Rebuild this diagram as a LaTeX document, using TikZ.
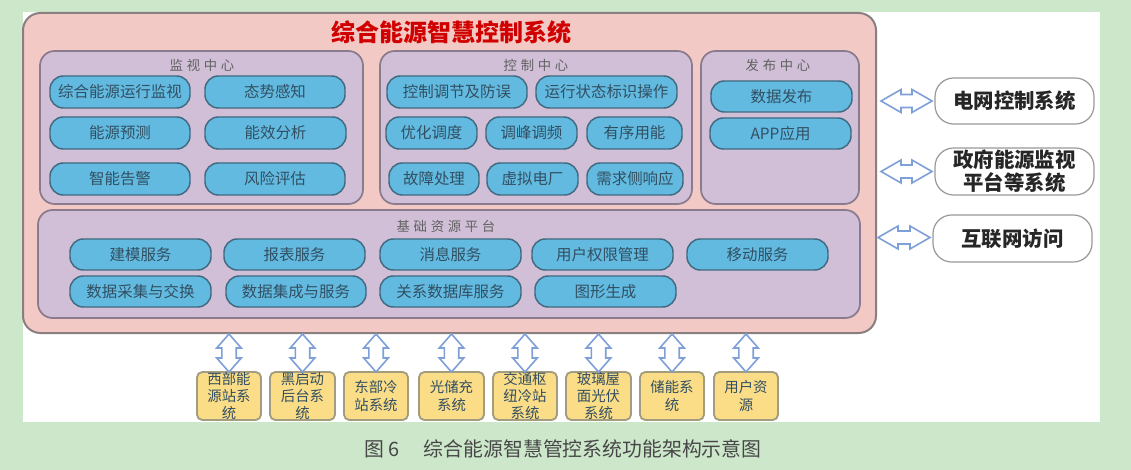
\documentclass[tikz,border=0pt]{standalone}
\usepackage{fontspec}
\usetikzlibrary{calc}
\newfontfamily\cjk{Noto Sans CJK SC}
\newfontfamily\cjkwide[LetterSpace=28]{Noto Sans CJK SC}
\definecolor{pagegreen}{HTML}{CDE7CB}
\definecolor{outerfill}{HTML}{F2C9C4}
\definecolor{outerline}{HTML}{8A7F80}
\definecolor{panelfill}{HTML}{D0BFD6}
\definecolor{panelline}{HTML}{8B7B8E}
\definecolor{pillfill}{HTML}{62BAE0}
\definecolor{pillline}{HTML}{41697F}
\definecolor{pilltext}{HTML}{324F62}
\definecolor{yellowfill}{HTML}{FBDD87}
\definecolor{yellowline}{HTML}{A39D80}
\definecolor{arrowblue}{HTML}{7F9FD8}
\newcommand{\bx}[7]{\node[#1,minimum width={(#4-#2)*0.75pt},minimum height={(#5-#3)*0.75pt}] (#6) at ({(#2+#4)/2},{(#3+#5)/2}) {#7};}
% hollow two-headed link: from, to, head length, head half width, shaft half width
\newcommand{\hollowlink}[5]{\draw[hollowlinkstyle] (#1)
  -- ($(#1)!#3!(#2)!#4!90:(#2)$) -- ($(#1)!#3!(#2)!#5!90:(#2)$)
  -- ($(#2)!#3!(#1)!#5!-90:(#1)$) -- ($(#2)!#3!(#1)!#4!-90:(#1)$)
  -- (#2)
  -- ($(#2)!#3!(#1)!#4!90:(#1)$) -- ($(#2)!#3!(#1)!#5!90:(#1)$)
  -- ($(#1)!#3!(#2)!#5!-90:(#2)$) -- ($(#1)!#3!(#2)!#4!-90:(#2)$)
  -- cycle;}
\tikzset{
  boxbase/.style={rectangle,inner sep=0pt,outer sep=0pt,align=center},
  outerbox/.style={boxbase,draw=outerline,fill=outerfill,line width=1.5pt,rounded corners=13pt},
  panelbox/.style={boxbase,draw=panelline,fill=panelfill,line width=1.3pt,rounded corners=11pt},
  pill/.style={boxbase,draw=pillline,fill=pillfill,line width=1.1pt,rounded corners=10pt,text=pilltext,font=\cjk\fontsize{11.6pt}{13pt}\selectfont},
  yellowbox/.style={boxbase,draw=yellowline,fill=yellowfill,line width=1.4pt,rounded corners=4pt,text=pilltext,font=\cjk\fontsize{10.8pt}{12.9pt}\selectfont},
  sidebox/.style={boxbase,draw=black!40,fill=white,line width=.9pt,rounded corners=14pt,text=black!85,font=\cjk\bfseries\fontsize{15.3pt}{17pt}\selectfont},
  paneltitle/.style={inner sep=0pt,text=black!62,font=\cjkwide\fontsize{10pt}{12pt}\selectfont},
  hollowlinkstyle/.style={draw=arrowblue,fill=white,line width=1.2pt,line join=miter}
}
\begin{document}
\begin{tikzpicture}[x=0.75pt,y=-0.75pt]
\fill[pagegreen] (0,0) rectangle (1131,470);
\fill[white] (23,12) rectangle (1100,422);
\useasboundingbox (0,0) rectangle (1131,470);

\bx{outerbox}{23}{13}{876}{333}{outer}{}
\node[inner sep=0pt,text=red!82!black,font=\cjk\bfseries\fontsize{18pt}{20pt}\selectfont] (maintitle) at (451,32) {综合能源智慧控制系统};

\bx{panelbox}{40}{51}{363}{204}{jiankong}{}
\bx{panelbox}{380}{51}{692}{204}{kongzhi}{}
\bx{panelbox}{701}{51}{859}{204}{fabu}{}
\bx{panelbox}{38}{210}{860}{318}{jichu}{}
\node[paneltitle] (t1) at (202,65) {监视中心};
\node[paneltitle] (t2) at (536,65) {控制中心};
\node[paneltitle] (t3) at (778,65) {发布中心};
\node[paneltitle] (t4) at (446,226) {基础资源平台};

\bx{pill}{50}{76}{190}{108}{a1}{综合能源运行监视}
\bx{pill}{205}{76}{345}{108}{a2}{态势感知}
\bx{pill}{50}{117}{190}{149}{a3}{能源预测}
\bx{pill}{205}{117}{346}{149}{a4}{能效分析}
\bx{pill}{50}{163}{190}{195}{a5}{智能告警}
\bx{pill}{205}{163}{345}{195}{a6}{风险评估}

\bx{pill}{387}{76}{527}{108}{b1}{控制调节及防误}
\bx{pill}{536}{76}{677}{108}{b2}{运行状态标识操作}
\bx{pill}{386}{117}{477}{149}{b3}{优化调度}
\bx{pill}{486}{117}{577}{149}{b4}{调峰调频}
\bx{pill}{587}{117}{682}{149}{b5}{有序用能}
\bx{pill}{389}{163}{479}{195}{b6}{故障处理}
\bx{pill}{487}{163}{578}{195}{b7}{虚拟电厂}
\bx{pill}{587}{163}{683}{195}{b8}{需求侧响应}

\bx{pill}{711}{81}{852}{112}{c1}{数据发布}
\bx{pill}{710}{118}{851}{149}{c2}{APP应用}

\bx{pill}{70}{239}{211}{270}{d1}{建模服务}
\bx{pill}{224}{239}{365}{270}{d2}{报表服务}
\bx{pill}{380}{239}{521}{270}{d3}{消息服务}
\bx{pill}{532}{239}{673}{270}{d4}{用户权限管理}
\bx{pill}{687}{239}{828}{270}{d5}{移动服务}
\bx{pill}{70}{276}{211}{307}{e1}{数据采集与交换}
\bx{pill}{226}{276}{366}{307}{e2}{数据集成与服务}
\bx{pill}{380}{276}{521}{307}{e3}{关系数据库服务}
\bx{pill}{535}{276}{676}{307}{e4}{图形生成}

\bx{sidebox}{935}{78}{1094}{124}{r1}{电网控制系统}
\bx{sidebox}{935}{148}{1094}{195}{r2}{政府能源监视\\平台等系统}
\bx{sidebox}{933}{215}{1092}{262}{r3}{互联网访问}

\bx{yellowbox}{197}{372}{261}{420}{y1}{西部能\\源站系\\统}
\bx{yellowbox}{270}{372}{335}{420}{y2}{黑启动\\后台系\\统}
\bx{yellowbox}{344}{372}{408}{420}{y3}{东部冷\\站系统}
\bx{yellowbox}{419}{372}{484}{420}{y4}{光储充\\系统}
\bx{yellowbox}{493}{372}{557}{420}{y5}{交通枢\\纽冷站\\系统}
\bx{yellowbox}{566}{372}{631}{420}{y6}{玻璃屋\\面光伏\\系统}
\bx{yellowbox}{640}{372}{704}{420}{y7}{储能系\\统}
\bx{yellowbox}{714}{372}{778}{420}{y8}{用户资\\源}

\foreach \n in {1,...,8}{
  \coordinate (vtop\n) at ($(y\n.north |- outer.south)+(0,1)$);
  \coordinate (vbot\n) at (y\n.north);
  \hollowlink{vtop\n}{vbot\n}{10.5pt}{9.2pt}{5.4pt}
}
\coordinate (ha1) at ($(outer.east |- r1.west)+(5,0)$);
\coordinate (hb1) at ($(r1.west)+(-3,0)$);
\coordinate (ha2) at ($(outer.east |- r2.west)+(5,0)$);
\coordinate (hb2) at ($(r2.west)+(-3,0)$);
\coordinate (ha3) at ($(outer.east |- r3.west)+(2,-1)$);
\coordinate (hb3) at ($(r3.west)+(-3,-1)$);
\foreach \n in {1,2,3}{
  \hollowlink{ha\n}{hb\n}{15pt}{8.6pt}{4.9pt}
}

\node[inner sep=0pt,text=black!72,font=\cjk\fontsize{14.9pt}{17pt}\selectfont] (caption) at (563,449) {图 6\hspace{18pt}综合能源智慧管控系统功能架构示意图};
\end{tikzpicture}
\end{document}
